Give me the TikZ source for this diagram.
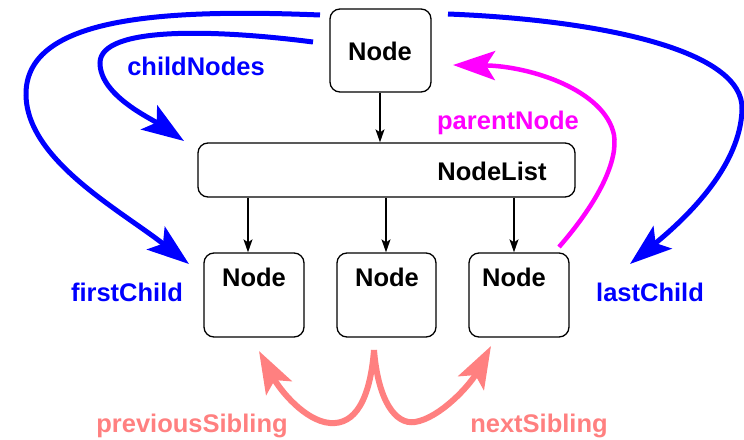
\documentclass[tikz,border=0pt]{standalone}
\usepackage{fontspec}
\setmainfont{Liberation Sans}
\usetikzlibrary{arrows.meta,calc}
\definecolor{domblue}{RGB}{0,0,255}
\definecolor{dommag}{RGB}{255,0,255}
\definecolor{dompink}{RGB}{255,128,128}
\begin{document}
\begin{tikzpicture}[x=1pt,y=-1pt,
  lbl/.style={font=\fontsize{25.5}{30}\selectfont\bfseries, inner sep=0pt, anchor=base},
  box/.style={draw, line width=1.3pt, rounded corners=10pt, inner sep=0pt},
  down/.style={-{Stealth[length=13pt,width=9pt,inset=3pt]}, line width=1.3pt},
  bigtip/.style={-{Stealth[length=42pt,width=29pt,inset=9pt]}},
  bluearc/.style={bigtip, draw=domblue, line width=5pt},
  magarc/.style={bigtip, draw=dommag, line width=4.5pt},
  pinkarc/.style={bigtip, draw=dompink, line width=6pt},
]
\useasboundingbox (0,0) rectangle (744,439);

% boxes
\node[box, minimum width=101pt, minimum height=83pt] (top) at (380.5,50.5) {};
\node[box, minimum width=377pt, minimum height=54pt] (list) at (386.5,170) {};
\node[box, minimum width=100pt, minimum height=84pt] (c1) at (254,295) {};
\node[box, minimum width=99pt,  minimum height=84pt] (c2) at (386.5,295) {};
\node[box, minimum width=100pt, minimum height=84pt] (c3) at (519,295) {};

% box captions
\node[lbl] (topt) at (380,60) {Node};
\node[lbl] (listt) at (492,180) {NodeList};
\node[lbl] (c1t) at (254,286) {Node};
\node[lbl] (c2t) at (387,286) {Node};
\node[lbl] (c3t) at (514,286) {Node};

% black links
\coordinate (k0) at (380,0);
\coordinate (k1) at (248,0);
\coordinate (k2) at (386,0);
\coordinate (k3) at (514,0);
\draw[down] (top.south -| k0) -- (list.north -| k0);
\draw[down] (list.south -| k1) -- (c1.north -| k1);
\draw[down] (list.south -| k2) -- (c2.north -| k2);
\draw[down] (list.south -| k3) -- (c3.north -| k3);

% end points of the big curved arrows
\coordinate (cnS) at (313,42);
\coordinate (cnE) at (184,141);
\coordinate (fcS) at (320,15);
\coordinate (fcE) at (189,264);
\coordinate (lcS) at (448,14);
\coordinate (lcE) at (630,264);
\coordinate (pnS) at (559,247);
\coordinate (pnE) at (453,65);
\coordinate (sib) at (374,350);
\coordinate (psE) at (259,351);
\coordinate (nsE) at (491,346);

% childNodes
\draw[bluearc] (cnS) .. controls (220,30) and (100,25) .. (100,63)
  .. controls (100,95) and (150,118) .. (cnE);
% firstChild
\draw[bluearc] (fcS) .. controls (150,8) and (25,20) .. (26,95)
  .. controls (27,160) and (120,210) .. (fcE);
% lastChild
\draw[bluearc] (lcS) .. controls (600,20) and (745,50) .. (742,110)
  .. controls (740,165) and (690,215) .. (lcE);
% parentNode
\draw[magarc] (pnS) .. controls (600,200) and (618,160) .. (614,135)
  .. controls (605,90) and (530,66) .. (pnE);
% previousSibling / nextSibling
\draw[pinkarc] (sib) .. controls (370,400) and (355,425) .. (330,423)
  .. controls (305,421) and (280,390) .. (psE);
\draw[pinkarc] (sib) .. controls (378,400) and (395,425) .. (415,422)
  .. controls (440,418) and (470,385) .. (nsE);

% labels
\node[lbl, text=domblue] (cnl) at (196,75) {childNodes};
\node[lbl, text=domblue] (fcl) at (127,301) {firstChild};
\node[lbl, text=domblue] (lcl) at (650,301) {lastChild};
\node[lbl, text=dommag] (pnl) at (508,129) {parentNode};
\node[lbl, text=dompink] (psl) at (192,432) {previousSibling};
\node[lbl, text=dompink] (nsl) at (539,432) {nextSibling};
\end{tikzpicture}
\end{document}
